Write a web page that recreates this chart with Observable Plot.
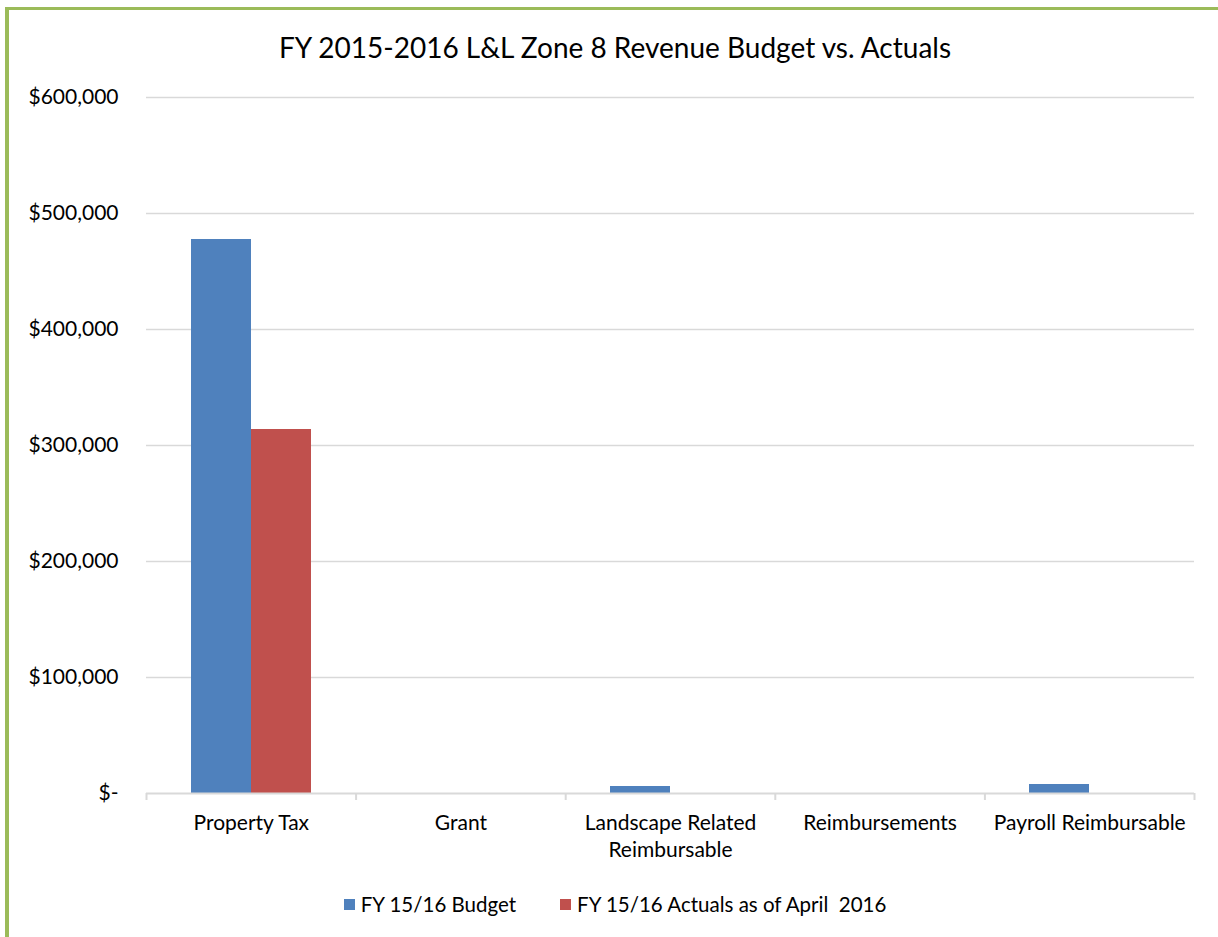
<!DOCTYPE html>
<html>
<head>
<meta charset="utf-8">
<script src="https://cdn.jsdelivr.net/npm/d3@7"></script>
<script src="https://cdn.jsdelivr.net/npm/@observablehq/plot@0.6"></script>
<style>
  html, body { margin: 0; padding: 0; background: #fff; }
  #wrap { position: relative; width: 1218px; height: 937px; overflow: hidden; font-family: Lato, "Open Sans", sans-serif; color: #000; }
  #border { position: absolute; left: 5px; top: 7px; right: -10px; bottom: -10px; border-left: 4px solid #9BBB59; border-top: 3px solid #9BBB59; }
  #title { position: absolute; left: 0; top: 30px; width: 1230px; text-align: center; font-size: 28px; line-height: 34px; }
  #chart { position: absolute; left: 0; top: 0; }
  #legend { position: absolute; left: 0; top: 892px; width: 1230px; display: flex; justify-content: center; font-size: 20.5px; line-height: 24px; }
  .item { display: flex; align-items: center; margin: 0 22px; white-space: pre; }
  .sw { width: 11px; height: 11px; margin-right: 6px; }
</style>
</head>
<body>
<div id="wrap">
  <div id="border"></div>
  <div id="chart"></div>
  <div id="title"></div>
  <div id="legend"></div>
</div>
<script>
const title = "FY 2015-2016 L&L Zone 8 Revenue Budget vs. Actuals";
const categories = ["Property Tax", "Grant", "Landscape Related Reimbursable", "Reimbursements", "Payroll Reimbursable"];
const categoryLabels = ["Property Tax", "Grant", "Landscape Related\nReimbursable", "Reimbursements", "Payroll Reimbursable"];
const seriesNames = ["FY 15/16 Budget", "FY 15/16 Actuals as of April  2016"];
const budget = [478000, 0, 5700, 0, 8000];
const actuals = [313600, 0, 0, 0, 0];
const yTicks = [0, 100000, 200000, 300000, 400000, 500000, 600000];
const colors = ["#4F81BD", "#C0504D"];

const W = 1218, H = 870, mL = 146, mR = 24, mT = 97, mB = 77;
const bw = (W - mL - mR) / categories.length;
const barW = 60;
const outer = (bw - 2 * barW) / 2;

const budgetData = categories.map((c, i) => ({category: c, value: budget[i]}));
const actualData = categories.map((c, i) => ({category: c, value: actuals[i]}));
const labelOf = new Map(categories.map((c, i) => [c, categoryLabels[i]]));

const chart = Plot.plot({
  width: W,
  height: H,
  marginLeft: mL,
  marginRight: mR,
  marginTop: mT,
  marginBottom: mB,
  style: {fontFamily: "Lato, 'Open Sans', sans-serif", fontSize: "21px", color: "#000", background: "transparent"},
  x: {domain: categories, padding: 0, round: false, label: null},
  y: {domain: [0, 600000], label: null},
  marks: [
    Plot.ruleY(yTicks.slice(1), {stroke: "#D9D9D9", strokeWidth: 1.3}),
    Plot.barY(budgetData, {x: "category", y: "value", fill: colors[0], insetLeft: outer, insetRight: outer + barW, shapeRendering: "crispEdges"}),
    Plot.barY(actualData, {x: "category", y: "value", fill: colors[1], insetLeft: outer + barW, insetRight: outer, shapeRendering: "crispEdges"}),
    Plot.ruleY([0], {stroke: "#D9D9D9", strokeWidth: 2}),
    Plot.ruleX(categories, {x: d => d, y1: 0, y2: 0, insetTop: 0, insetBottom: -7, dx: -bw / 2, stroke: "#D9D9D9", strokeWidth: 2}),
    Plot.ruleX(categories.slice(-1), {x: d => d, y1: 0, y2: 0, insetTop: 0, insetBottom: -7, dx: bw / 2, stroke: "#D9D9D9", strokeWidth: 2}),
    Plot.axisY(yTicks, {tickSize: 0, tickPadding: 28, tickFormat: d => d === 0 ? "$-" : "$" + d3.format(",")(d), fontSize: 21}),
    Plot.axisX({tickSize: 0, tickPadding: 17, tickFormat: d => labelOf.get(d), lineHeight: 1.3, fontSize: 21})
  ]
});
document.getElementById("chart").appendChild(chart);
document.getElementById("title").textContent = title;

const legend = document.getElementById("legend");
seriesNames.forEach((name, i) => {
  const item = document.createElement("div");
  item.className = "item";
  const sw = document.createElement("div");
  sw.className = "sw";
  sw.style.background = colors[i];
  const t = document.createElement("span");
  t.textContent = name;
  item.appendChild(sw);
  item.appendChild(t);
  legend.appendChild(item);
});
</script>
</body>
</html>
